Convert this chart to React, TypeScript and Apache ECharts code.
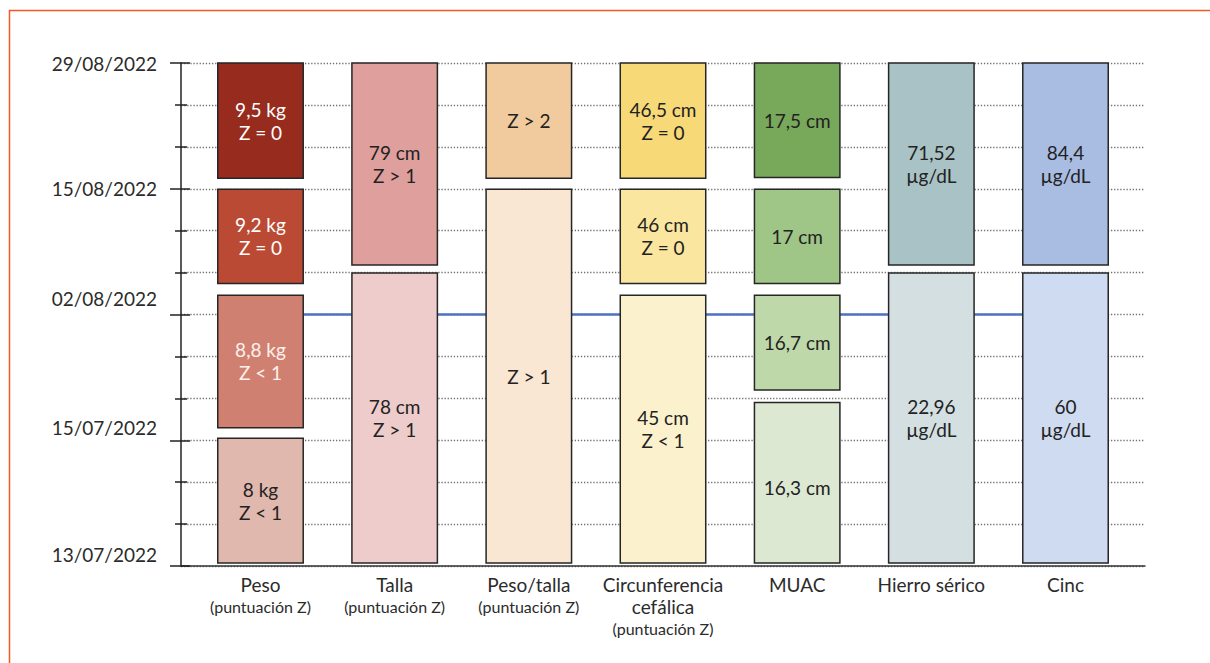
import React, { useEffect, useRef } from "react";
import * as echarts from "echarts";

// Column categories (x axis)
const categoryNames = ["Peso", "Talla", "Peso/talla", "Circunferencia\ncefálica", "MUAC", "Hierro sérico", "Cinc"];
const categorySub = ["(puntuación Z)", "(puntuación Z)", "(puntuación Z)", "(puntuación Z)", "", "", ""];

// Y axis: evaluation dates (bottom to top), one label every 3 units
const dateLabels = ["13/07/2022", "15/07/2022", "02/08/2022", "15/08/2022", "29/08/2022"];

// Boxes: column index, start and end on the date scale, and label
const boxColumn = [0, 0, 0, 0, 1, 1, 2, 2, 3, 3, 3, 4, 4, 4, 4, 5, 5, 6, 6];
const boxFrom = [9.25, 6.74, 3.3, 0.07, 7.18, 0.07, 9.25, 0.07, 9.25, 6.74, 0.07, 9.27, 6.74, 4.2, 0.07, 7.18, 0.07, 7.18, 0.07];
const boxTo = [12, 8.99, 6.46, 3.05, 12, 6.99, 12, 8.99, 12, 8.99, 6.46, 12, 8.99, 6.46, 3.9, 12, 6.99, 12, 6.99];
const boxLabels = [
  "9,5 kg\nZ = 0", "9,2 kg\nZ = 0", "8,8 kg\nZ < 1", "8 kg\nZ < 1",
  "79 cm\nZ > 1", "78 cm\nZ > 1",
  "Z > 2", "Z > 1",
  "46,5 cm\nZ = 0", "46 cm\nZ = 0", "45 cm\nZ < 1",
  "17,5 cm", "17 cm", "16,7 cm", "16,3 cm",
  "71,52\nµg/dL", "22,96\nµg/dL",
  "84,4\nµg/dL", "60\nµg/dL",
];

// Reference line value (02/08/2022)
const refLineValue = [6, 6, 6, 6, 6, 6, 6];

// Styles
const boxFill = [
  "#962b1e", "#bb4a34", "#d08070", "#e0b8ae",
  "#df9f9c", "#eecccb",
  "#f1cb9e", "#f9e6d3",
  "#f7da77", "#fae69f", "#fcf1cd",
  "#78a85a", "#9fc587", "#bfd8aa", "#dde8d3",
  "#a9c2c5", "#d3dfe1",
  "#a9bde3", "#cfdbf1",
];
const boxText = [
  "#ffffff", "#ffffff", "#fdf1ed", "#222222",
  "#222222", "#222222", "#222222", "#222222", "#222222", "#222222", "#222222",
  "#222222", "#222222", "#222222", "#222222", "#222222", "#222222", "#222222", "#222222",
];
const dateLabelLift = [12, 13, 16, 0, 0];
const boxTextShift = [0, 0, 0, 0, 0, 0, 0, 0, 0, 0, 0, 0, 0, 0, 5, 0, 0, 0, 0];

const FONT = "Lato";

export default function App() {
  const ref = useRef<HTMLDivElement>(null);

  useEffect(() => {
    if (!ref.current) return;
    const chart = echarts.init(ref.current, null, { renderer: "svg" });

    const boxData = boxColumn.map((c, i) => [c, boxFrom[i], boxTo[i], i]);

    const rich: Record<string, any> = {};
    dateLabels.forEach((_, i) => {
      rich["d" + i] = {
        fontFamily: FONT,
        fontSize: 19,
        color: "#2b2b2b",
        padding: [0, 0, dateLabelLift[i] * 2, 0],
      };
    });

    const dotted = { color: "#707070", width: 1.3, type: [1.3, 1.8] as any };

    chart.setOption({
      animation: false,
      backgroundColor: "#ffffff",
      textStyle: { fontFamily: FONT },
      graphic: [
        {
          type: "polyline",
          shape: { points: [[9.5, 663], [9.5, 10.5], [1210, 10.5]] },
          style: { stroke: "#f15a24", lineWidth: 1.5, fill: "none" },
          silent: true,
        },
      ],
      grid: [
        { left: 181, right: 65, top: 63, height: 503 },
        { left: 193.4, right: 77.4, top: 63, height: 503 },
      ],
      xAxis: [
        {
          type: "value",
          gridIndex: 0,
          min: 0,
          max: 1,
          axisLine: { show: true, onZero: false, lineStyle: { color: "#333333", width: 1.5 } },
          axisTick: { show: false },
          axisLabel: { show: false },
          splitLine: { show: false },
        },
        {
          type: "category",
          gridIndex: 1,
          data: categoryNames,
          boundaryGap: true,
          axisLine: { show: false },
          axisTick: { show: false },
          axisLabel: {
            margin: 7,
            interval: 0,
            formatter: (v: string, i: number) => {
              const main = v.split("\n").map((s) => `{a|${s}}`).join("\n");
              return categorySub[i] ? `${main}\n{b|${categorySub[i]}}` : main;
            },
            rich: {
              a: { fontFamily: FONT, fontSize: 19, color: "#2b2b2b", lineHeight: 22 },
              b: { fontFamily: FONT, fontSize: 16, color: "#2b2b2b", lineHeight: 22 },
            },
          },
        },
      ],
      yAxis: [
        {
          type: "value",
          gridIndex: 0,
          position: "left",
          min: 0,
          max: 12,
          interval: 3,
          axisLine: { show: true, lineStyle: { color: "#222222", width: 1.5 } },
          axisTick: { show: true, length: 11, lineStyle: { color: "#222222", width: 1.5 } },
          minorTick: { show: true, splitNumber: 3, length: 6, lineStyle: { color: "#222222", width: 1.5 } },
          axisLabel: {
            margin: 24,
            formatter: (_v: number, i: number) => `{d${i}|${dateLabels[i]}}`,
            rich,
          },
          splitLine: { show: true, lineStyle: dotted },
          minorSplitLine: { show: true, lineStyle: dotted },
        },
        {
          type: "value",
          gridIndex: 0,
          position: "left",
          min: 0,
          max: 12,
          interval: 3,
          axisLine: { show: false },
          axisTick: { show: true, inside: true, length: 9, lineStyle: { color: "#222222", width: 1.5 } },
          minorTick: { show: true, splitNumber: 3, length: 6, lineStyle: { color: "#222222", width: 1.5 } },
          axisLabel: { show: false },
          splitLine: { show: false },
        },
        {
          type: "value",
          gridIndex: 1,
          min: 0,
          max: 12,
          show: false,
        },
      ],
      series: [
        {
          type: "line",
          xAxisIndex: 1,
          yAxisIndex: 2,
          data: refLineValue,
          symbol: "none",
          silent: true,
          z: 2,
          lineStyle: { color: "#4f73c3", width: 2.5 },
        },
        {
          type: "custom",
          xAxisIndex: 1,
          yAxisIndex: 2,
          z: 3,
          silent: true,
          data: boxData,
          encode: { x: 0, y: [1, 2] },
          renderItem: (_params: any, api: any) => {
            const col = api.value(0);
            const from = api.value(1);
            const to = api.value(2);
            const idx = api.value(3);
            const top = api.coord([col, to]);
            const bottom = api.coord([col, from]);
            const band = api.size([1, 0])[0];
            const w = band * 0.637;
            return {
              type: "group",
              children: [
                {
                  type: "rect",
                  shape: { x: top[0] - w / 2, y: top[1], width: w, height: bottom[1] - top[1] },
                  style: { fill: boxFill[idx], stroke: "#262626", lineWidth: 1.5 },
                },
                {
                  type: "text",
                  x: top[0],
                  y: (top[1] + bottom[1]) / 2 + boxTextShift[idx],
                  style: {
                    text: boxLabels[idx],
                    align: "center",
                    verticalAlign: "middle",
                    fill: boxText[idx],
                    fontSize: 19,
                    fontFamily: FONT,
                    lineHeight: 23,
                  },
                },
              ],
            };
          },
        },
      ],
    });

    return () => chart.dispose();
  }, []);

  return (
    <div
      ref={ref}
      style={{ position: "fixed", left: 0, top: 0, width: 1210, height: 663, background: "#fff" }}
    />
  );
}
